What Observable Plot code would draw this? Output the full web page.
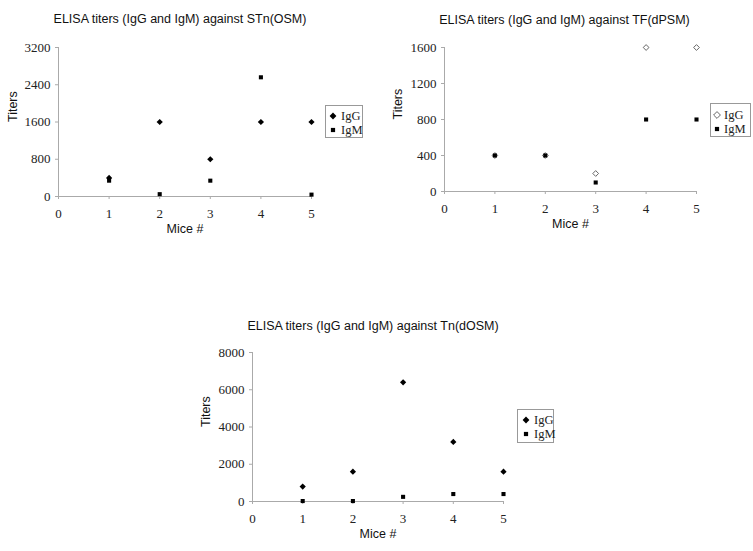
<!DOCTYPE html>
<html>
<head>
<meta charset="utf-8">
<script src="https://cdn.jsdelivr.net/npm/d3@7"></script>
<script src="https://cdn.jsdelivr.net/npm/@observablehq/plot@0.6"></script>
<style>
  html, body { margin: 0; padding: 0; background: #fff; }
  #root { position: relative; width: 753px; height: 551px; overflow: hidden; }
  .panel { position: absolute; }
  .legend { position: absolute; border: 1px solid #999; box-sizing: border-box; background: #fff;
            font-family: "Liberation Serif", "DejaVu Serif", serif; font-size: 12.5px; color: #222; }
  .legend .row { position: absolute; left: 0; height: 12px; line-height: 12px; white-space: nowrap; }
  .legend svg { position: absolute; top: 2px; }
  .legend span { position: absolute; top: 0; }
</style>
</head>
<body>
<div id="root"></div>
<script>
// ---- data ----
const mice = [1, 2, 3, 4, 5];
const xTicks = [0, 1, 2, 3, 4, 5];
const seriesNames = ["IgG", "IgM"];

const stnTitle = "ELISA titers (IgG and IgM) against STn(OSM)";
const stnIgG = [400, 1600, 800, 1600, 1600];
const stnIgM = [340, 50, 340, 2560, 40];
const stnTicks = [0, 800, 1600, 2400, 3200];

const tfTitle = "ELISA titers (IgG and IgM) against TF(dPSM)";
const tfIgG = [400, 400, 200, 1600, 1600];
const tfIgM = [400, 400, 100, 800, 800];
const tfTicks = [0, 400, 800, 1200, 1600];

const tnTitle = "ELISA titers (IgG and IgM) against Tn(dOSM)";
const tnIgG = [800, 1600, 6400, 3200, 1600];
const tnIgM = [25, 25, 250, 400, 400];
const tnTicks = [0, 2000, 4000, 6000, 8000];

const xLabel = "Mice #";
const yLabel = "Titers";

const root = document.getElementById("root");
const sans = "'Liberation Sans', Arial, sans-serif";
const serif = "'Liberation Serif', 'DejaVu Serif', serif";

function panel(cfg) {
  const rows = [];
  mice.forEach((m, i) => rows.push({mouse: m, titer: cfg.igg[i], series: seriesNames[0]}));
  mice.forEach((m, i) => rows.push({mouse: m, titer: cfg.igm[i], series: seriesNames[1]}));
  const igg = rows.filter(d => d.series === "IgG");
  const igm = rows.filter(d => d.series === "IgM");
  const chart = Plot.plot({
    width: cfg.width,
    height: cfg.height,
    marginLeft: cfg.ml,
    marginRight: cfg.mr,
    marginTop: cfg.mt,
    marginBottom: cfg.mb,
    style: {fontFamily: serif, fontSize: "13px", color: "#222", background: "transparent", overflow: "visible"},
    x: {domain: [0, 5]},
    y: {domain: [0, cfg.yTicks[cfg.yTicks.length - 1]]},
    marks: [
      Plot.ruleY([0], {stroke: "#aaa", strokeWidth: 1}),
      Plot.ruleX([0], {stroke: "#aaa", strokeWidth: 1}),
      Plot.axisX({ticks: xTicks, tickSize: 3, tickPadding: 9, stroke: "#aaa", label: null, tickFormat: d => String(d), fill: "#222"}),
      Plot.axisY({ticks: cfg.yTicks, tickSize: 3, tickPadding: 5, stroke: "#aaa", label: null, tickFormat: d => String(d), fill: "#222"}),
      cfg.openIgG
        ? Plot.dot(igg, {x: "mouse", y: "titer", symbol: "diamond2", r: 2.6, fill: "white", stroke: "#555", strokeWidth: 0.9})
        : Plot.dot(igg, {x: "mouse", y: "titer", symbol: "diamond2", r: 2.8, fill: "black", stroke: "none"}),
      Plot.dot(igm, {x: "mouse", y: "titer", symbol: "square", r: 2.3, fill: "black", stroke: "none"}),
      Plot.text([cfg.title], {frameAnchor: "top", dy: cfg.titleDy, dx: cfg.titleDx, fontFamily: sans, fontSize: 12.5, fill: "#111"}),
      Plot.text([yLabel], {frameAnchor: "left", dx: cfg.yLabelDx, rotate: -90, fontFamily: sans, fontSize: 12.5, fill: "#111"}),
      Plot.text([xLabel], {frameAnchor: "bottom", dy: 36, fontFamily: sans, fontSize: 12.5, fill: "#111"})
    ]
  });
  chart.classList.add("panel");
  chart.style.left = cfg.left + "px";
  chart.style.top = cfg.top + "px";
  root.appendChild(chart);

  // legend
  const lg = document.createElement("div");
  lg.className = "legend";
  lg.style.left = cfg.lg.x + "px";
  lg.style.top = cfg.lg.y + "px";
  lg.style.width = cfg.lg.w + "px";
  lg.style.height = cfg.lg.h + "px";
  seriesNames.forEach((name, i) => {
    const row = document.createElement("div");
    row.className = "row";
    row.style.top = (cfg.lg.r0 + i * cfg.lg.dr) + "px";
    row.style.width = "100%";
    const isOpen = i === 0 && cfg.openIgG;
    const sym = i === 0
      ? `<svg width="8" height="8" style="left:${cfg.lg.sx}px"><path d="M4,0.6L7.4,4L4,7.4L0.6,4Z" fill="${isOpen ? "white" : "black"}" stroke="${isOpen ? "#555" : "none"}" stroke-width="0.9"/></svg>`
      : `<svg width="8" height="8" style="left:${cfg.lg.sx}px"><rect x="1.9" y="1.9" width="4.2" height="4.2" fill="black"/></svg>`;
    row.innerHTML = sym + `<span style="left:${cfg.lg.tx}px">${name}</span>`;
    lg.appendChild(row);
  });
  root.appendChild(lg);
}

panel({
  title: stnTitle, igg: stnIgG, igm: stnIgM, yTicks: stnTicks,
  left: 0, top: 0, width: 320, height: 241, ml: 58, mr: 9, mt: 47, mb: 45,
  titleDy: -33, titleDx: -5, yLabelDx: -46,
  lg: {x: 325, y: 105, w: 38, h: 33, r0: 4, dr: 14, sx: 3, tx: 15}
});

panel({
  title: tfTitle, igg: tfIgG, igm: tfIgM, yTicks: tfTicks, openIgG: true,
  left: 380, top: 0, width: 325, height: 236, ml: 64, mr: 9, mt: 47, mb: 45,
  titleDy: -32, titleDx: -6, yLabelDx: -47,
  lg: {x: 710, y: 103, w: 41, h: 34, r0: 5, dr: 14, sx: 2, tx: 13}
});

panel({
  title: tnTitle, igg: tnIgG, igm: tnIgM, yTicks: tnTicks,
  left: 200, top: 300, width: 312, height: 246, ml: 52, mr: 9, mt: 52, mb: 45,
  titleDy: -31, titleDx: -5, yLabelDx: -47,
  lg: {x: 517, y: 409, w: 37, h: 34, r0: 4, dr: 14, sx: 4, tx: 16}
});
</script>
</body>
</html>
